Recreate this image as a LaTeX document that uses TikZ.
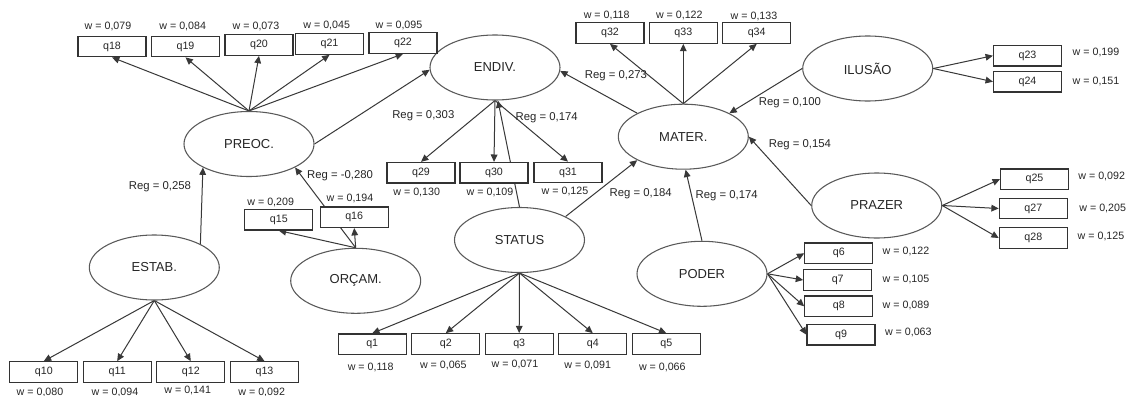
\documentclass[tikz,border=0pt]{standalone}
\usepackage{fontspec}
\setmainfont{Liberation Sans}
\usetikzlibrary{arrows.meta,shapes.geometric}
\pgfdeclarelayer{bg}
\pgfsetlayers{bg,main}
\begin{document}
\begin{tikzpicture}[x=0.75pt,y=-0.75pt,
  lv/.style={ellipse,draw=black!65,line width=0.8pt,fill=white,minimum width=97.5pt,minimum height=48.75pt,inner sep=0pt,font=\fontsize{9.75}{11}\selectfont,text=black!85},
  ind/.style={rectangle,draw=black!80,line width=0.9pt,fill=white,minimum width=51pt,minimum height=15.4pt,inner sep=0pt,font=\fontsize{8}{9}\selectfont,text=black!85},
  wl/.style={font=\fontsize{8}{9}\selectfont,text=black!85,inner sep=0pt},
  rl/.style={font=\fontsize{8.5}{10}\selectfont,text=black!85,inner sep=0pt},
  arr/.style={draw=black!78,line width=0.75pt,-{Triangle[length=5.5pt,width=5pt]}},
  ln/.style={draw=black!78,line width=0.75pt}
]
\useasboundingbox (0,0) rectangle (1131,396);
\clip (0,0) rectangle (1131,396);

% latent variables
\node[lv] (PREOC) at (249,144) {PREOC.};
\node[lv] (ENDIV) at (495,67.5) {ENDIV.};
\node[lv] (MATER) at (683.3,136.7) {MATER.};
\node[lv] (ILUSAO) at (867.7,68.5) {ILUSÃO};
\node[lv] (PRAZER) at (876.7,205.5) {PRAZER};
\node[lv] (PODER) at (702,273.8) {PODER};
\node[lv] (STATUS) at (519.5,240) {STATUS};
\node[lv] (ORCAM) at (355.7,280.8) {ORÇAM.};
\node[lv] (ESTAB) at (154.3,267.5) {ESTAB.};

% indicators
\node[ind] (q18) at (112,46.5) {q18};
\node[ind] (q19) at (185.5,46.5) {q19};
\node[ind] (q20) at (259,45) {q20};
\node[ind] (q21) at (329.5,44) {q21};
\node[ind] (q22) at (403,43) {q22};
\node[ind] (q29) at (421,172.7) {q29};
\node[ind] (q30) at (494,172.7) {q30};
\node[ind] (q31) at (568,172.5) {q31};
\node[ind] (q32) at (610,33) {q32};
\node[ind] (q33) at (683.3,33) {q33};
\node[ind] (q34) at (756.7,33) {q34};
\node[ind] (q23) at (1027.5,55.7) {q23};
\node[ind] (q24) at (1027.5,81.7) {q24};
\node[ind] (q25) at (1034.5,179.2) {q25};
\node[ind] (q27) at (1033.3,208.5) {q27};
\node[ind] (q28) at (1033.3,238) {q28};
\node[ind] (q6) at (838.8,253.3) {q6};
\node[ind] (q7) at (837.7,280) {q7};
\node[ind] (q8) at (838.8,306.3) {q8};
\node[ind] (q9) at (841,334.7) {q9};
\node[ind] (q1) at (372.2,344.2) {q1};
\node[ind] (q2) at (445.8,344) {q2};
\node[ind] (q3) at (519.2,344) {q3};
\node[ind] (q4) at (592.8,344) {q4};
\node[ind] (q5) at (666.3,344) {q5};
\node[ind] (q15) at (278.8,219.7) {q15};
\node[ind] (q16) at (354.2,217.2) {q16};
\node[ind] (q10) at (43.8,372) {q10};
\node[ind] (q11) at (117.2,372) {q11};
\node[ind] (q12) at (190.8,372) {q12};
\node[ind] (q13) at (264.5,372) {q13};

% weights
\node[wl] (w18) at (108,26.7) {w = 0,079};
\node[wl] (w19) at (182.7,26.7) {w = 0,084};
\node[wl] (w20) at (256,26) {w = 0,073};
\node[wl] (w21) at (326.7,25.5) {w = 0,045};
\node[wl] (w22) at (399,25.5) {w = 0,095};
\node[wl] (w29) at (416.7,192.7) {w = 0,130};
\node[wl] (w30) at (490,192.7) {w = 0,109};
\node[wl] (w31) at (565,191.3) {w = 0,125};
\node[wl] (w32) at (606.7,15) {w = 0,118};
\node[wl] (w33) at (679.3,15) {w = 0,122};
\node[wl] (w34) at (754,16) {w = 0,133};
\node[wl] (w23) at (1096,52.3) {w = 0,199};
\node[wl] (w24) at (1096,81.7) {w = 0,151};
\node[wl] (w25) at (1101.7,176.7) {w = 0,092};
\node[wl] (w27) at (1102.7,208.3) {w = 0,205};
\node[wl] (w28) at (1101,236.7) {w = 0,125};
\node[wl] (w6) at (906,251.7) {w = 0,122};
\node[wl] (w7) at (906,279.3) {w = 0,105};
\node[wl] (w8) at (906,305) {w = 0,089};
\node[wl] (w9) at (908.3,332.7) {w = 0,063};
\node[wl] (w1) at (370.7,367.3) {w = 0,118};
\node[wl] (w2) at (443.3,365.7) {w = 0,065};
\node[wl] (w3) at (515,364) {w = 0,071};
\node[wl] (w4) at (587.7,365.7) {w = 0,091};
\node[wl] (w5) at (662.3,367.3) {w = 0,066};
\node[wl] (w15) at (270.7,202.3) {w = 0,209};
\node[wl] (w16) at (350,198.3) {w = 0,194};
\node[wl] (w10) at (40,392.3) {w = 0,080};
\node[wl] (w11) at (115,392.3) {w = 0,094};
\node[wl] (w12) at (187.7,390.7) {w = 0,141};
\node[wl] (w13) at (261.7,392.3) {w = 0,092};

% regression labels
\node[rl] (r1) at (160,186.7) {Reg = 0,258};
\node[rl] (r2) at (340,175.7) {Reg = -0,280};
\node[rl] (r3) at (423.3,116) {Reg = 0,303};
\node[rl] (r4) at (546.7,117.3) {Reg = 0,174};
\node[rl] (r5) at (616,76) {Reg = 0,273};
\node[rl] (r6) at (790,102.3) {Reg = 0,100};
\node[rl] (r7) at (800,145) {Reg = 0,154};
\node[rl] (r8) at (640.7,193.3) {Reg = 0,184};
\node[rl] (r9) at (726.7,196) {Reg = 0,174};

\begin{pgfonlayer}{bg}
\fill[white] (0,0) rectangle (1131,396);
% PREOC indicators
\foreach \q in {q18,q19,q20,q21,q22} \draw[arr] (PREOC.north) -- (\q.south);
% ENDIV indicators
\foreach \q in {q29,q30,q31} \draw[arr] (ENDIV.south) -- (\q.north);
% MATER indicators
\foreach \q in {q32,q33,q34} \draw[arr] (MATER.north) -- (\q.south);
% ILUSAO
\foreach \q in {q23,q24} \draw[arr] (ILUSAO.east) -- (\q.west);
% PRAZER
\foreach \q in {q25,q27,q28} \draw[arr] (PRAZER.east) -- (\q.west);
% PODER
\foreach \q in {q6,q7,q8,q9} \draw[arr] (PODER.east) -- (\q.west);
% STATUS
\foreach \q in {q1,q2,q3,q4,q5} \draw[arr] (STATUS.south) -- (\q.north);
% ORCAM
\foreach \q in {q15,q16} \draw[arr] (ORCAM.north) -- (\q.south);
% ESTAB
\foreach \q in {q10,q11,q12,q13} \draw[arr] (ESTAB.south) -- (\q.north);
% structural paths
\draw[arr] (ESTAB.27) -- (PREOC.207);
\draw[arr] (ORCAM.north) -- (PREOC.-27);
\draw[arr] (PREOC.east) -- (ENDIV.182);
\draw[arr] (STATUS.north) -- (ENDIV.-85);
\draw[arr] (MATER.153) -- (ENDIV.-3);
\draw[arr] (ILUSAO.west) -- (MATER.27);
\draw[arr] (PRAZER.west) -- (MATER.east);
\draw[arr] (PODER.north) -- (MATER.-86);
\draw[arr] (STATUS.27) -- (MATER.207);
\end{pgfonlayer}
\end{tikzpicture}
\end{document}
